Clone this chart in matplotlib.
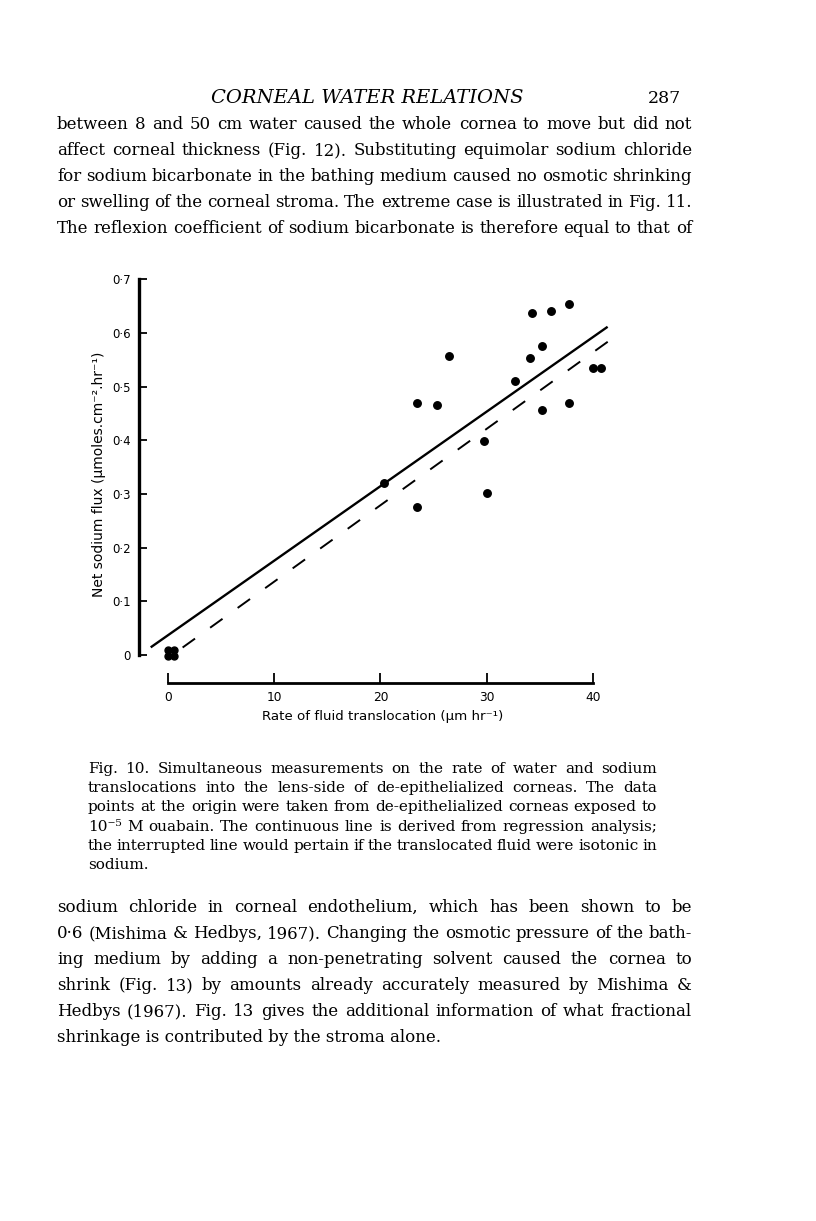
import matplotlib
matplotlib.use('Agg')
import matplotlib.pyplot as plt

# Fig. 10 - fluxo de sódio x taxa de translocação de fluido
# taxa em um/hr, fluxo em umoles/cm2/hr
taxa = [20.3, 23.4, 23.4, 25.3, 26.4, 29.7, 30.0, 32.6, 34.1, 34.2,
        35.2, 35.2, 36.0, 37.75, 37.75, 40.0, 40.7]
fluxo = [0.320, 0.470, 0.275, 0.466, 0.557, 0.399, 0.301, 0.510, 0.554, 0.637,
         0.575, 0.457, 0.640, 0.653, 0.470, 0.535, 0.535]

# pontos na origem (córneas com ouabaína)
taxa_ouabaina = [0.0, 0.58, 0.0, 0.58]
fluxo_ouabaina = [0.009, 0.009, -0.002, -0.002]

# reta de regressão (contínua) e reta isotônica (tracejada): (intercepto, inclinação)
reg_x = [-1.6, 41.35]
reg_coef = (0.0365, 0.0139)
iso_x = [1.4, 42.1]
iso_coef = (-0.006, 0.01425)

y_ticks = [0, 0.1, 0.2, 0.3, 0.4, 0.5, 0.6, 0.7]
y_rotulos = ['0', '0·1', '0·2', '0·3', '0·4', '0·5', '0·6', '0·7']
x_ticks = [0, 10, 20, 30, 40]
x_rotulos = ['0', '10', '20', '30', '40']

# texto da página
cabecalho = 'CORNEAL WATER RELATIONS'
pagina = '287'
paragrafo1 = [
    'between 8 and 50 cm water caused the whole cornea to move but did not',
    'affect corneal thickness (Fig. 12). Substituting equimolar sodium chloride',
    'for sodium bicarbonate in the bathing medium caused no osmotic shrinking',
    'or swelling of the corneal stroma. The extreme case is illustrated in Fig. 11.',
    'The reflexion coefficient of sodium bicarbonate is therefore equal to that of',
]
legenda = [
    'Fig. 10. Simultaneous measurements on the rate of water and sodium',
    'translocations into the lens-side of de-epithelialized corneas. The data',
    'points at the origin were taken from de-epithelialized corneas exposed to',
    '10⁻⁵ M ouabain. The continuous line is derived from regression analysis;',
    'the interrupted line would pertain if the translocated fluid were isotonic in',
    'sodium.',
]
paragrafo2 = [
    'sodium chloride in corneal endothelium, which has been shown to be',
    '0·6 (Mishima & Hedbys, 1967). Changing the osmotic pressure of the bath-',
    'ing medium by adding a non-penetrating solvent caused the cornea to',
    'shrink (Fig. 13) by amounts already accurately measured by Mishima &',
    'Hedbys (1967). Fig. 13 gives the additional information of what fractional',
    'shrinkage is contributed by the stroma alone.',
]

W, H = 816, 1221
plt.rcParams['lines.scale_dashes'] = False
fig = plt.figure(figsize=(W / 100, H / 100), dpi=100)
fig.patch.set_facecolor('white')
renderer = fig.canvas.get_renderer()

serifa = ['DejaVu Serif']
sans = ['DejaVu Sans']


def px(x, y):
    return x / W, 1 - y / H


# linha de texto justificada entre x0 e x1 (y = linha de base, em pixels)
def linha(texto, x0, x1, y, justificar=True, tamanho=12):
    if not justificar:
        fig.text(*px(x0, y), texto, va='baseline', ha='left',
                 family=serifa, fontsize=tamanho)
        return
    palavras = texto.split(' ')
    objs = [fig.text(*px(x0, y), p, va='baseline', ha='left',
                     family=serifa, fontsize=tamanho) for p in palavras]
    larguras = [t.get_window_extent(renderer).width for t in objs]
    espaco = (x1 - x0 - sum(larguras)) / (len(objs) - 1)
    x = x0
    for t, w in zip(objs, larguras):
        t.set_position(px(x, y))
        x += w + espaco


# cabeçalho
fig.text(*px(367, 103), cabecalho, ha='center', va='baseline',
         family=serifa, style='italic', fontsize=14)
fig.text(*px(681, 103), pagina, ha='right', va='baseline',
         family=serifa, fontsize=12.5)

for i, l in enumerate(paragrafo1):
    linha(l, 57, 692, 129 + 26 * i)

for i, l in enumerate(legenda):
    linha(l, 88, 657, 773 + 19.2 * i, justificar=(i < len(legenda) - 1), tamanho=11)

for i, l in enumerate(paragrafo2):
    linha(l, 57, 692, 912 + 26 * i, justificar=(i < len(paragrafo2) - 1))

# gráfico
esq, dir_, base, topo = 139, 630.5, 683.3, 268.4
ax = fig.add_axes([esq / W, 1 - base / H, (dir_ - esq) / W, (base - topo) / H])
ax.set_xlim(-2.7, 43.5)
ax.set_ylim(-0.0527, 0.72)
ax.patch.set_alpha(0)

ax.plot(reg_x, [reg_coef[0] + reg_coef[1] * x for x in reg_x],
        color='black', lw=1.7, solid_capstyle='butt')
ax.plot(iso_x, [iso_coef[0] + iso_coef[1] * x for x in iso_x],
        color='black', lw=1.4, dashes=(11, 13.4), dash_capstyle='butt')
ax.plot(taxa, fluxo, 'o', color='black', markersize=5.4, clip_on=False)
ax.plot(taxa_ouabaina, fluxo_ouabaina, 'o', color='black', markersize=5.0, clip_on=False)

for s in ['top', 'right']:
    ax.spines[s].set_visible(False)
ax.spines['left'].set_bounds(0, 0.7)
ax.spines['left'].set_linewidth(2.4)
ax.spines['bottom'].set_bounds(0, 40)
ax.spines['bottom'].set_linewidth(2.0)

ax.set_yticks(y_ticks)
ax.set_yticklabels(y_rotulos, family=sans, fontsize=8.5)
ax.set_xticks(x_ticks)
ax.set_xticklabels(x_rotulos, family=sans, fontsize=8.8)
ax.tick_params(axis='y', direction='in', length=6, width=1.3, pad=6)
ax.tick_params(axis='x', direction='in', length=7.5, width=1.3, pad=5.5)

ax.set_xlabel('Rate of fluid translocation (μm hr⁻¹)', family=sans,
              fontsize=9.6, va='center')
ax.xaxis.set_label_coords((383 - esq) / (dir_ - esq), (base - 717) / (base - topo))
ax.set_ylabel('Net sodium flux (μmoles.cm⁻².hr⁻¹)', family=sans,
              fontsize=10, va='center')
ax.yaxis.set_label_coords((99 - esq) / (dir_ - esq), (base - 474) / (base - topo))

fig.savefig('out.png', dpi=100, facecolor='white')
